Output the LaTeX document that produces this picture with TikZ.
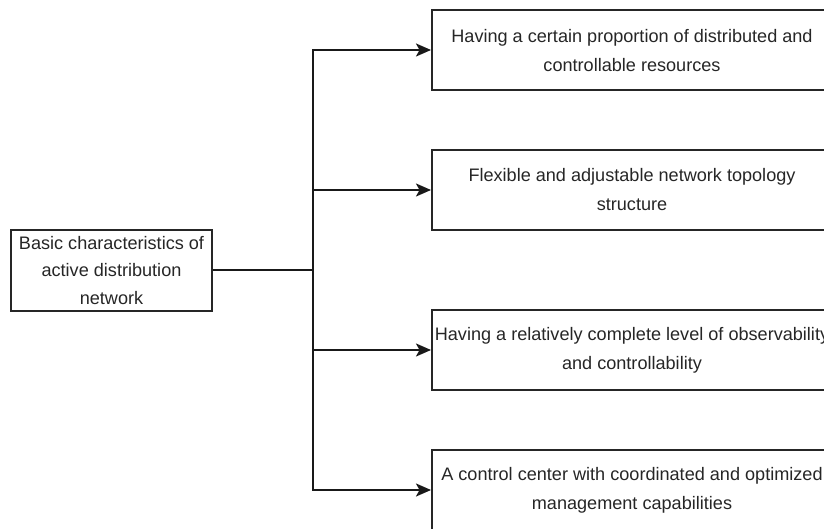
\documentclass[tikz,border=0pt]{standalone}
\usepackage{fontspec}
\setmainfont{Liberation Sans}
\usetikzlibrary{arrows.meta}
\begin{document}
\begin{tikzpicture}[x=1pt,y=-1pt,
  box/.style={draw=black!85,line width=2pt,rectangle,align=center,inner sep=0pt,
    font=\fontsize{18.1}{29}\selectfont,text=black!85},
  conn/.style={line width=2pt,draw=black!90},
  arr/.style={conn,-{Stealth[length=15pt,width=13pt,inset=3.5pt]}}]
\clip (0,0) rectangle (824,529);
\useasboundingbox (0,0) rectangle (824,529);
\node[box,minimum width=201pt,minimum height=81pt] (L) at (111.5,270.5)
  {\raisebox{-2pt}{\shortstack{Basic characteristics of\\[11pt]active distribution\\[11pt]network}}};
\node[box,minimum width=400pt,minimum height=80pt,text depth=-2pt] (b1) at (632,50)
  {Having a certain proportion of distributed and\\controllable resources};
\node[box,minimum width=400pt,minimum height=80pt] (b2) at (632,190)
  {Flexible and adjustable network topology\\structure};
\node[box,minimum width=400pt,minimum height=80pt] (b3) at (632,350)
  {Having a relatively complete level of observability\\and controllability};
\node[box,minimum width=400pt,minimum height=80pt] (b4) at (632,490)
  {A control center with coordinated and optimized\\management capabilities};
\coordinate (j) at (313,270.5);
\draw[conn] (L.east) -- (j);
\draw[arr] (j) |- (b1.west);
\draw[arr] (j) |- (b2.west);
\draw[arr] (j) |- (b3.west);
\draw[arr] (j) |- (b4.west);
\end{tikzpicture}
\end{document}
